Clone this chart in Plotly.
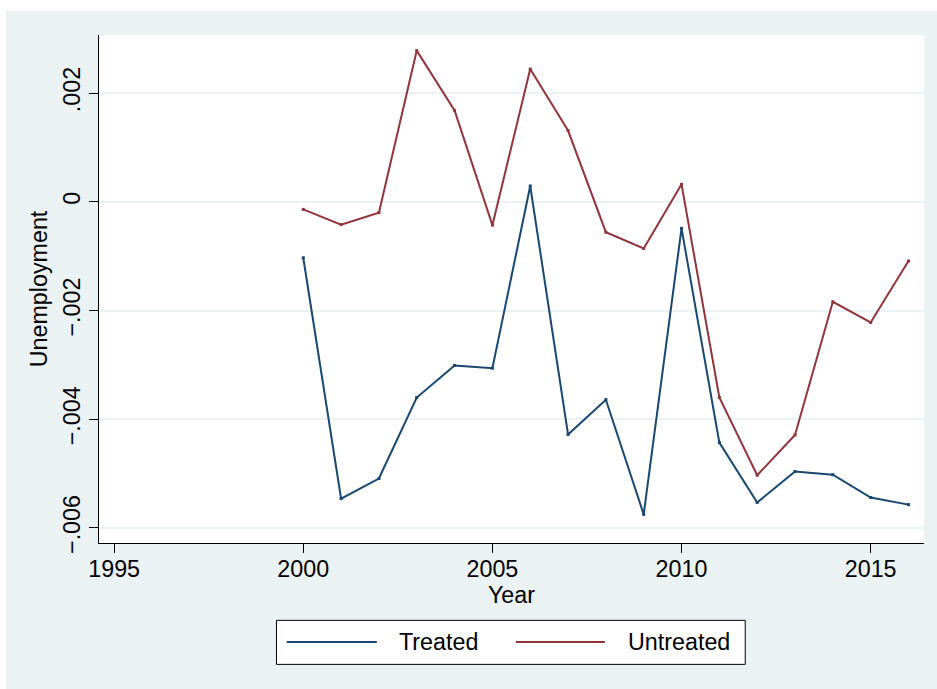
import plotly.graph_objects as go

# Yearly unemployment effects, treated vs untreated groups
years = [2000, 2001, 2002, 2003, 2004, 2005, 2006, 2007, 2008,
         2009, 2010, 2011, 2012, 2013, 2014, 2015, 2016]
treated = [-0.00103, -0.00546, -0.00509, -0.00360, -0.00301, -0.00306, 0.00029,
           -0.00428, -0.00364, -0.00575, -0.00049, -0.00443, -0.00553, -0.00496,
           -0.00502, -0.00544, -0.00557]
untreated = [-0.00014, -0.00042, -0.00020, 0.00278, 0.00168, -0.00043, 0.00244,
             0.00131, -0.00056, -0.00086, 0.00032, -0.00360, -0.00503, -0.00429,
             -0.00184, -0.00222, -0.00109]

x_ticks = [1995, 2000, 2005, 2010, 2015]
y_ticks = [-0.006, -0.004, -0.002, 0, 0.002]
y_tick_labels = ["\u2212.006", "\u2212.004", "\u2212.002", "0", ".002"]
series_names = ["Treated", "Untreated"]

NAVY = "#1a476f"
MAROON = "#90353b"
BG = "#eaf2f3"
FONT = "Liberation Sans, Arial, sans-serif"
FS = 23.3

W, H = 937, 689
L, R, T, B = 99.3, 924.0, 35.0, 542.7


def px_x(px):
    return (px - L) / (R - L)


def px_y(py):
    return (B - py) / (B - T)


fig = go.Figure()
for name, vals, color in [(series_names[0], treated, NAVY),
                          (series_names[1], untreated, MAROON)]:
    fig.add_trace(go.Scatter(
        x=years, y=vals, name=name, mode="lines+markers",
        line=dict(color=color, width=2),
        marker=dict(color=color, size=3, symbol="square"),
        showlegend=False,
    ))

shapes = [
    # white outer border strips
    dict(type="rect", xref="paper", yref="paper", layer="below",
         x0=px_x(0), x1=px_x(W), y0=px_y(0), y1=px_y(11),
         fillcolor="white", line=dict(width=0)),
    dict(type="rect", xref="paper", yref="paper", layer="below",
         x0=px_x(0), x1=px_x(6), y0=px_y(0), y1=px_y(H),
         fillcolor="white", line=dict(width=0)),
    # legend box
    dict(type="rect", xref="paper", yref="paper",
         x0=px_x(276.7), x1=px_x(745.3), y0=px_y(620), y1=px_y(664),
         fillcolor="white", line=dict(color="black", width=1)),
    dict(type="line", xref="paper", yref="paper",
         x0=px_x(287), x1=px_x(377), y0=px_y(641.7), y1=px_y(641.7),
         line=dict(color=NAVY, width=2)),
    dict(type="line", xref="paper", yref="paper",
         x0=px_x(516), x1=px_x(605), y0=px_y(641.7), y1=px_y(641.7),
         line=dict(color=MAROON, width=2)),
]

annotations = [
    dict(text=series_names[0], xref="paper", yref="paper",
         x=px_x(397), y=px_y(641.5), xanchor="left", yanchor="middle",
         showarrow=False, font=dict(family=FONT, size=FS, color="black")),
    dict(text=series_names[1], xref="paper", yref="paper",
         x=px_x(626), y=px_y(641.5), xanchor="left", yanchor="middle",
         showarrow=False, font=dict(family=FONT, size=FS, color="black")),
]

fig.update_layout(
    width=W, height=H,
    margin=dict(l=L, r=W - R, t=T, b=H - B, pad=0),
    paper_bgcolor=BG, plot_bgcolor="white",
    font=dict(family=FONT, size=FS, color="black"),
    shapes=shapes, annotations=annotations,
    xaxis=dict(
        range=[1994.6, 2016.41], tickvals=x_ticks,
        showgrid=False, zeroline=False,
        showline=True, linecolor="black", linewidth=1,
        ticks="outside", ticklen=9, tickcolor="black", tickwidth=1,
        ticklabelstandoff=-4,
        tickfont=dict(family=FONT, size=FS, color="black"),
        title=dict(text="Year", standoff=0,
                   font=dict(family=FONT, size=FS, color="black")),
    ),
    yaxis=dict(
        range=[-0.006276, 0.003067], tickvals=y_ticks, ticktext=y_tick_labels,
        tickangle=-90,
        showgrid=True, gridcolor=BG, gridwidth=2, zeroline=False,
        showline=True, linecolor="black", linewidth=1,
        ticks="outside", ticklen=9, tickcolor="black", tickwidth=1,
        tickfont=dict(family=FONT, size=FS, color="black"),
        title=dict(text="Unemployment", standoff=4,
                   font=dict(family=FONT, size=FS, color="black")),
    ),
)

fig.write_html("out.html")
